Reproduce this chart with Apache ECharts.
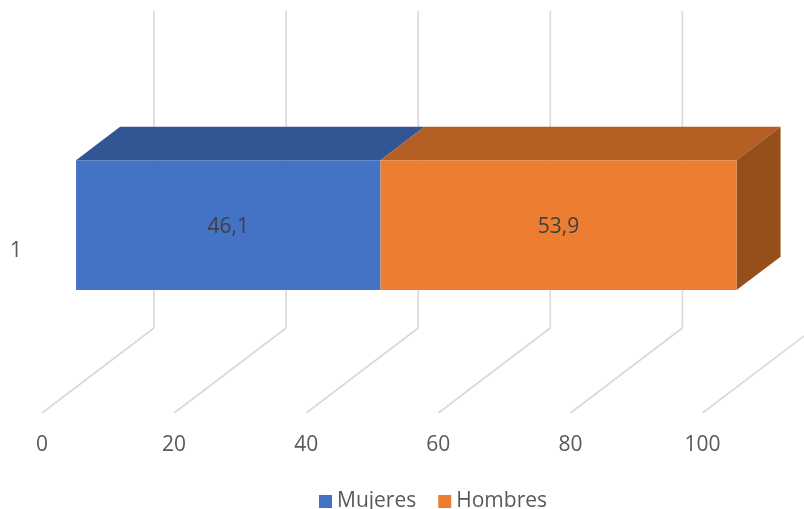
<!DOCTYPE html>
<html>
<head>
<meta charset="utf-8">
<style>html,body{margin:0;padding:0;background:#fff}#c{width:804px;height:509px}</style>
<script src="https://cdn.jsdelivr.net/npm/echarts@6/dist/echarts.min.js"></script>
</head>
<body>
<div id="c"></div>
<script>
const categories = ['1'];
const axisTicks = [0, 20, 40, 60, 80, 100];
const mujeres = [46.1];
const hombres = [53.9];

const FONT = '"Open Sans", "Noto Sans", sans-serif';
const TEXT = '#595959';
const GRID_LINE = '#d9d9d9';
const DEPTH_X = 112, DEPTH_Y = 85, WALL = 317;
const BOX_FRONT = 0.304, BOX_DEPTH = 0.393, BOX_BAND = 0.401;

const chart = echarts.init(document.getElementById('c'), null, {renderer: 'canvas'});

function wallItem(params, api) {
  const x = api.coord([api.value(0), 0])[0];
  const cs = params.coordSys;
  const y = cs.y + cs.height;
  const style = {stroke: GRID_LINE, lineWidth: 1.6, fill: null};
  return {type: 'group', silent: true, children: [
    {type: 'line', shape: {x1: x, y1: y, x2: x + DEPTH_X, y2: y - DEPTH_Y}, style},
    {type: 'line', shape: {x1: x + DEPTH_X, y1: y - DEPTH_Y, x2: x + DEPTH_X, y2: y - DEPTH_Y - WALL}, style}
  ]};
}

function boxItem(front, top, side) {
  return function (params, api) {
    const a = api.coord([api.value(0), api.value(2)]);
    const b = api.coord([api.value(1), api.value(2)]);
    const h = api.size([0, 1])[1] * BOX_BAND;
    const ox = DEPTH_X * BOX_FRONT, oy = DEPTH_Y * BOX_FRONT;
    const dx = DEPTH_X * BOX_DEPTH, dy = DEPTH_Y * BOX_DEPTH;
    const x0 = a[0] + ox, x1 = b[0] + ox;
    const yT = a[1] - oy - h / 2, yB = a[1] - oy + h / 2;
    const label = (api.value(1) - api.value(0)).toFixed(1).replace('.', ',');
    const children = [
      {type: 'polygon', shape: {points: [[x0, yT], [x0 + dx, yT - dy], [x1 + dx, yT - dy], [x1, yT]]}, style: {fill: top}},
      {type: 'rect', shape: {x: x0, y: yT, width: x1 - x0, height: yB - yT}, style: {fill: front}},
      {type: 'text', style: {
        x: (x0 + x1) / 2, y: (yT + yB) / 2 + 2,
        text: label,
        fill: '#404040', font: '21px ' + FONT, align: 'center', verticalAlign: 'middle'
      }}
    ];
    if (side) {
      children.splice(1, 0, {type: 'polygon', shape: {points: [[x1, yT], [x1 + dx, yT - dy], [x1 + dx, yB - dy], [x1, yB]]}, style: {fill: side}});
    }
    return {type: 'group', children};
  };
}

chart.setOption({
  animation: false,
  backgroundColor: '#ffffff',
  textStyle: {fontFamily: FONT},
  legend: {
    data: ['Mujeres', 'Hombres'],
    left: 314, top: 486,
    itemWidth: 13, itemHeight: 13, itemGap: 22,
    icon: 'rect',
    textStyle: {color: TEXT, fontSize: 21, fontFamily: FONT}
  },
  grid: {left: 42, top: 89, width: 660.5, height: 324, containLabel: false},
  xAxis: {
    type: 'value', min: 0, max: 100, interval: 20,
    axisLine: {show: false}, axisTick: {show: false}, splitLine: {show: false},
    axisLabel: {color: TEXT, fontSize: 21, fontFamily: FONT, margin: 22, hideOverlap: false,
      showMinLabel: true, showMaxLabel: true}
  },
  yAxis: {
    type: 'category', data: categories,
    axisLine: {show: false}, axisTick: {show: false}, splitLine: {show: false},
    axisLabel: {color: TEXT, fontSize: 21, fontFamily: FONT, margin: 20, padding: [3, 0, 0, 0]}
  },
  series: [
    {type: 'custom', name: 'axes3d', z: 1, renderItem: wallItem,
     data: axisTicks.map(t => [t]), encode: {x: 0}, silent: true},
    {type: 'custom', name: 'Mujeres', z: 2, color: '#4472c4',
     renderItem: boxItem('#4472c4', '#325694', null),
     data: mujeres.map((v, i) => [0, v, i]), encode: {x: [0, 1], y: 2}},
    {type: 'custom', name: 'Hombres', z: 3, color: '#ed7d31',
     renderItem: boxItem('#ed7d31', '#b45f23', '#964f1b'),
     data: hombres.map((v, i) => [mujeres[i], mujeres[i] + v, i]), encode: {x: [0, 1], y: 2}}
  ]
});
</script>
</body>
</html>
